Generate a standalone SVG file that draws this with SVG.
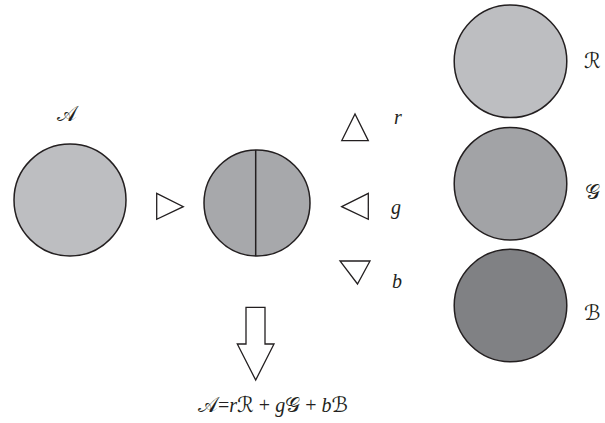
<svg xmlns="http://www.w3.org/2000/svg" width="605" height="423" viewBox="0 0 605 423">
<style>
.c{stroke:#231f20;stroke-width:1.5}
.t{fill:none;stroke:#231f20;stroke-width:1.3}
.l{font-family:"Liberation Serif","DejaVu Serif",serif;font-style:italic;font-size:20px;fill:#231f20}
.s{font-family:"DejaVu Sans","Noto Sans",sans-serif;font-size:21px;font-style:normal}
</style>
<rect width="605" height="423" fill="#fff"/>
<g id="A">
<circle class="c" cx="70" cy="200" r="56" fill="#bdbec1"/>
<text class="l s" x="57" y="121">𝒜</text>
</g>
<g id="mix">
<circle class="c" cx="257" cy="203" r="53" fill="#a7a8ab"/>
<line class="c" x1="255.7" y1="150" x2="255.7" y2="256" fill="none"/>
</g>
<g id="connectors">
<polygon class="t" points="156.7,193.3 183.3,206.7 156.7,219.3"/>
<polygon class="t" points="341.7,140.7 355,114 368.3,140.7"/>
<polygon class="t" points="341.7,206.7 368.3,193.3 368.3,219.3"/>
<polygon class="t" points="340,261 370,261 357.5,284"/>
<polygon class="t" points="246,307.3 265,307.3 265,344 274,344 255.7,380 237.3,344 246,344"/>
</g>
<g id="r"><text class="l" x="394" y="124">r</text></g>
<g id="g"><text class="l" x="391" y="214">g</text></g>
<g id="b"><text class="l" x="392" y="288">b</text></g>
<g id="R">
<circle class="c" cx="510.5" cy="61.3" r="56.3" fill="#bdbec1"/>
<text class="l s" x="584" y="68">ℛ</text>
</g>
<g id="G">
<circle class="c" cx="510.5" cy="183.7" r="56.3" fill="#a2a3a6"/>
<text class="l s" x="585" y="199">𝒢</text>
</g>
<g id="B">
<circle class="c" cx="510.5" cy="305.5" r="56.3" fill="#808184"/>
<text class="l s" x="584" y="320">ℬ</text>
</g>
<g id="formula">
<text class="l" x="198" y="412"><tspan class="s">𝒜</tspan><tspan font-style="normal">=</tspan>r<tspan class="s">ℛ</tspan><tspan font-style="normal"> + </tspan>g<tspan class="s">𝒢</tspan><tspan font-style="normal"> + </tspan>b<tspan class="s">ℬ</tspan></text>
</g>
</svg>
